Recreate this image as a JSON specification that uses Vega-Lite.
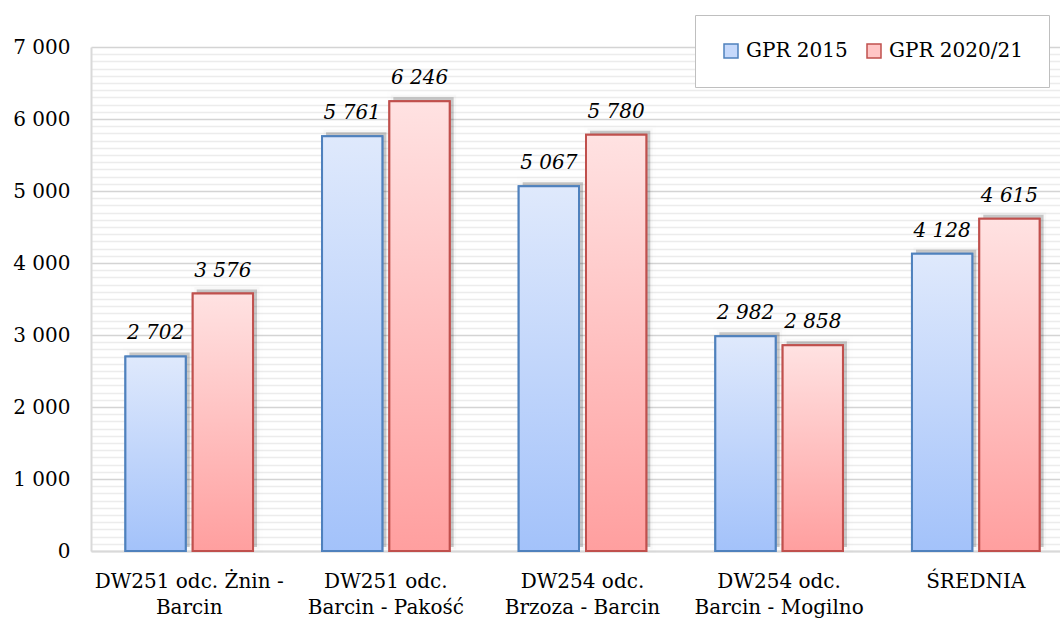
{
  "$schema": "https://vega.github.io/schema/vega-lite/v6.json",
  "autosize": {"type": "none"},
  "width": 969,
  "height": 504,
  "padding": {"left": 91, "top": 47, "right": 0, "bottom": 70},
  "background": "white",
  "config": {
    "locale": {"number": {"decimal": ",", "thousands": " ", "grouping": [3], "currency": ["", " zł"]}},
    "font": "DejaVu Serif",
    "view": {"stroke": null}
  },
  "data": {
    "values": [
      {"odcinek": "DW251 odc. Żnin - Barcin", "seria": "GPR 2015", "wartosc": 2702},
      {"odcinek": "DW251 odc. Żnin - Barcin", "seria": "GPR 2020/21", "wartosc": 3576},
      {"odcinek": "DW251 odc. Barcin - Pakość", "seria": "GPR 2015", "wartosc": 5761},
      {"odcinek": "DW251 odc. Barcin - Pakość", "seria": "GPR 2020/21", "wartosc": 6246},
      {"odcinek": "DW254 odc. Brzoza - Barcin", "seria": "GPR 2015", "wartosc": 5067},
      {"odcinek": "DW254 odc. Brzoza - Barcin", "seria": "GPR 2020/21", "wartosc": 5780},
      {"odcinek": "DW254 odc. Barcin - Mogilno", "seria": "GPR 2015", "wartosc": 2982},
      {"odcinek": "DW254 odc. Barcin - Mogilno", "seria": "GPR 2020/21", "wartosc": 2858},
      {"odcinek": "ŚREDNIA", "seria": "GPR 2015", "wartosc": 4128},
      {"odcinek": "ŚREDNIA", "seria": "GPR 2020/21", "wartosc": 4615}
    ]
  },
  "resolve": {"scale": {"xOffset": "independent"}},
  "encoding": {
    "x": {
      "field": "odcinek", "type": "nominal", "sort": null,
      "scale": {"range": [0, 983], "paddingInner": 0.351, "paddingOuter": 0.175},
      "axis": {
        "title": null, "labelAngle": 0, "ticks": false,
        "domainColor": "#d9d9d9", "domainWidth": 2,
        "labelFont": "DejaVu Serif", "labelFontSize": 20, "labelColor": "#000",
        "labelPadding": 20, "labelLineHeight": 26, "labelBaseline": "top",
        "labelLimit": 400,
        "labelExpr": "indexof(datum.value, 'Żnin') > 0 ? ['DW251 odc. Żnin -', 'Barcin'] : (indexof(datum.value, ' odc. ') > 0 ? [slice(datum.value, 0, 10), slice(datum.value, 11)] : datum.value)"
      }
    },
    "y": {
      "field": "wartosc", "type": "quantitative",
      "scale": {"domain": [0, 7000], "nice": false},
      "axis": {
        "title": null, "ticks": false, "format": ",d",
        "values": [0,100,200,300,400,500,600,700,800,900,1000,1100,1200,1300,1400,1500,1600,1700,1800,1900,2000,2100,2200,2300,2400,2500,2600,2700,2800,2900,3000,3100,3200,3300,3400,3500,3600,3700,3800,3900,4000,4100,4200,4300,4400,4500,4600,4700,4800,4900,5000,5100,5200,5300,5400,5500,5600,5700,5800,5900,6000,6100,6200,6300,6400,6500,6600,6700,6800,6900,7000],
        "labelExpr": "datum.value % 1000 === 0 ? datum.label : ''",
        "labelOverlap": false, "labelBound": false, "labelFlush": false,
        "gridColor": {"condition": {"test": "datum.value % 1000 === 0", "value": "#d4d4d4"}, "value": "#ececec"},
        "gridWidth": 1.5,
        "domainColor": "#d9d9d9", "domainWidth": 2,
        "labelFont": "DejaVu Serif", "labelFontSize": 20, "labelColor": "#000",
        "labelPadding": 21
      }
    }
  },
  "layer": [
    {
      "mark": {"type": "bar", "color": "#000", "opacity": 0.06, "stroke": "#000", "strokeOpacity": 0.06, "strokeWidth": 11, "yOffset": -4},
      "encoding": {
        "xOffset": {"field": "seria", "type": "nominal", "scale": {"range": [4, 131.6], "paddingInner": 0.104, "paddingOuter": 0}}
      }
    },
    {
      "mark": {"type": "bar", "color": "#000", "opacity": 0.16, "stroke": "#000", "strokeOpacity": 0.12, "strokeWidth": 5, "yOffset": -4},
      "encoding": {
        "xOffset": {"field": "seria", "type": "nominal", "scale": {"range": [4, 131.6], "paddingInner": 0.104, "paddingOuter": 0}}
      }
    },
    {
      "mark": {"type": "bar", "strokeWidth": 2},
      "encoding": {
        "xOffset": {"field": "seria", "type": "nominal", "scale": {"paddingInner": 0.104, "paddingOuter": 0}},
        "fill": {
          "field": "seria", "type": "nominal",
          "scale": {"domain": ["GPR 2015", "GPR 2020/21"], "range": ["#c6d9fb", "#ffc6c6"]},
          "legend": {
            "orient": "none", "legendX": 604, "legendY": -32, "direction": "horizontal",
            "title": null, "fillColor": "white", "strokeColor": "#bfbfbf",
            "padding": 26, "symbolType": "square", "symbolSize": 196, "symbolStrokeWidth": 1.5,
            "labelFont": "DejaVu Serif", "labelFontSize": 20, "labelColor": "#000",
            "columnPadding": 16, "labelOffset": 5
          }
        },
        "stroke": {
          "field": "seria", "type": "nominal",
          "scale": {"domain": ["GPR 2015", "GPR 2020/21"], "range": ["#4f81bd", "#c0504d"]},
          "legend": {
            "orient": "none", "legendX": 604, "legendY": -32, "direction": "horizontal",
            "title": null, "fillColor": "white", "strokeColor": "#bfbfbf",
            "padding": 26, "symbolType": "square", "symbolSize": 196, "symbolStrokeWidth": 1.5,
            "labelFont": "DejaVu Serif", "labelFontSize": 20, "labelColor": "#000",
            "columnPadding": 16, "labelOffset": 5
          }
        }
      }
    },
    {
      "mark": {"type": "bar", "strokeWidth": 2},
      "encoding": {
        "xOffset": {"field": "seria", "type": "nominal", "scale": {"paddingInner": 0.104, "paddingOuter": 0}},
        "fill": {
          "condition": {
            "test": "datum.seria === 'GPR 2015'",
            "value": {"gradient": "linear", "x1": 0, "y1": 0, "x2": 0, "y2": 1,
              "stops": [{"offset": 0, "color": "#dfe9fc"}, {"offset": 1, "color": "#a3c2fa"}]}
          },
          "value": {"gradient": "linear", "x1": 0, "y1": 0, "x2": 0, "y2": 1,
            "stops": [{"offset": 0, "color": "#ffe2e2"}, {"offset": 1, "color": "#ff9f9f"}]}
        },
        "stroke": {
          "condition": {"test": "datum.seria === 'GPR 2015'", "value": "#4f81bd"},
          "value": "#c0504d"
        }
      }
    },
    {
      "mark": {"type": "text", "font": "DejaVu Serif", "fontSize": 20, "fontStyle": "italic", "color": "#000", "baseline": "alphabetic", "dy": -17},
      "encoding": {
        "xOffset": {"field": "seria", "type": "nominal", "scale": {"type": "point", "padding": 0.448}},
        "text": {"field": "wartosc", "type": "quantitative", "format": ",d"}
      }
    }
  ]
}
